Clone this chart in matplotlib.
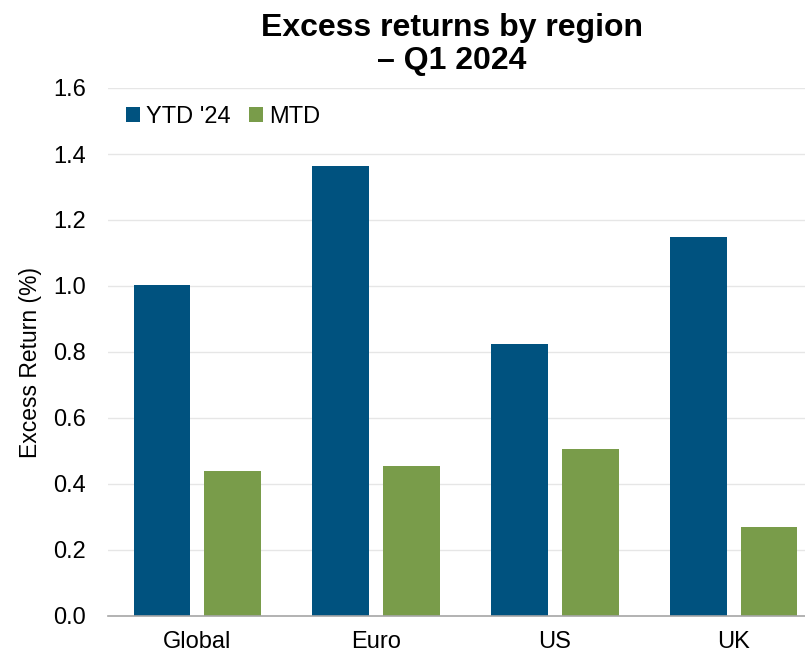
import matplotlib
matplotlib.use("Agg")
import matplotlib.pyplot as plt
import numpy as np

categories = ["Global", "Euro", "US", "UK"]
ytd = [1.003, 1.365, 0.825, 1.149]
mtd = [0.438, 0.456, 0.507, 0.270]
series_names = ["YTD '24", "MTD"]
yticks = [0.0, 0.2, 0.4, 0.6, 0.8, 1.0, 1.2, 1.4, 1.6]

plt.rcParams['font.family'] = ['Liberation Sans', 'DejaVu Sans']

fig = plt.figure(figsize=(8.05, 6.54), dpi=100)
ax = fig.add_axes([108/805, 38/654, (823-108)/805, 528/654])

x = np.arange(len(categories))
w = 0.318
off = 0.198
blue = "#00527F"
green = "#799C4A"
ax.bar(x - off, ytd, w, color=blue, label=series_names[0], zorder=3)
ax.bar(x + off, mtd, w, color=green, label=series_names[1], zorder=3)

ax.set_xlim(-0.5, 3.5)
ax.set_ylim(0, 1.6)
ax.set_yticks(yticks)
ax.set_yticklabels([f"{v:.1f}" for v in yticks], fontsize=17)
ax.set_xticks(x)
ax.set_xticklabels(categories, fontsize=17)
ax.tick_params(axis='x', length=0, pad=11)
ax.tick_params(axis='y', length=0, pad=16)
ax.grid(axis='y', color='#E6E6E6', linewidth=1, zorder=0)
for s in ['top', 'right', 'left']:
    ax.spines[s].set_visible(False)
ax.spines['bottom'].set_color('#A6A6A6')
ax.spines['bottom'].set_linewidth(1.2)
ax.spines['bottom'].set_zorder(4)
ax.set_ylabel("Excess Return (%)", fontsize=16.5)
ax.yaxis.set_label_coords(-0.093, 0.48)

leg = ax.legend(loc='upper left', bbox_to_anchor=(0.0, 1.0), ncol=2, frameon=False,
                fontsize=17, handlelength=0.6, handleheight=0.6, handletextpad=0.25,
                columnspacing=0.8, borderaxespad=0.35)

fig.text(452/805, 1 - 28/654, "Excess returns by region", ha='center', va='center',
         fontsize=23, fontweight='bold')
fig.text(452/805, 1 - 61/654, "– Q1 2024", ha='center', va='center',
         fontsize=23, fontweight='bold')

fig.savefig("out.png", dpi=100)
